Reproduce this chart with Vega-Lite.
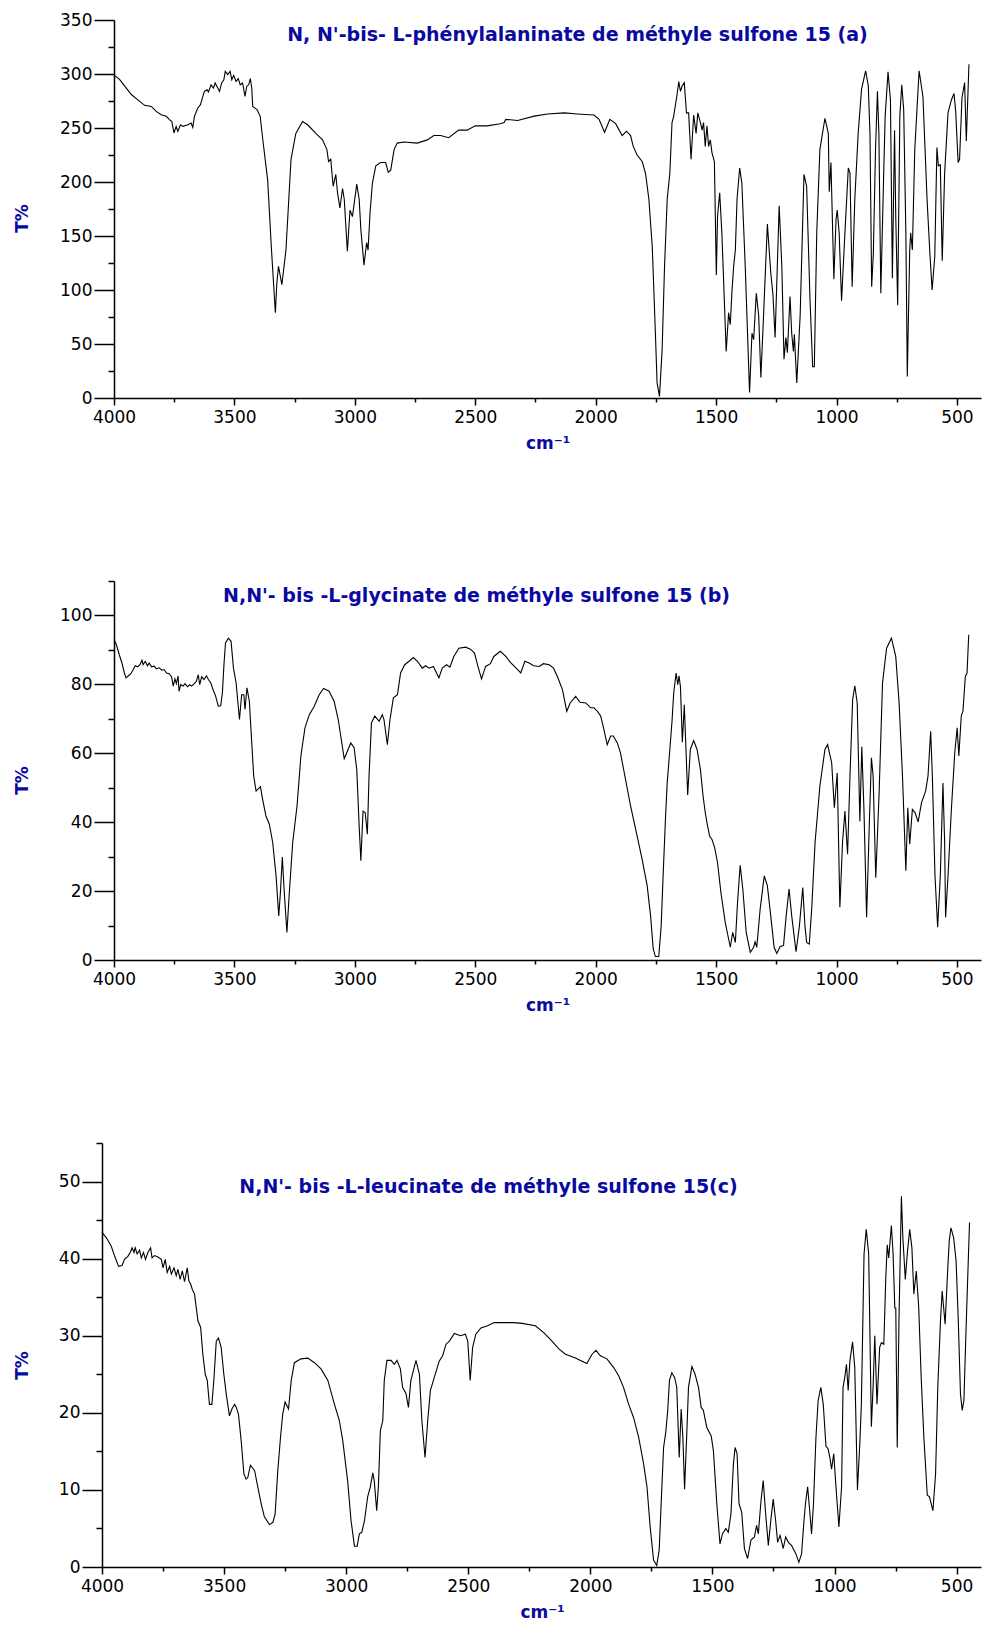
{
  "$schema": "https://vega.github.io/schema/vega-lite/v6.json",
  "background": "white",
  "padding": {"left": 13, "top": 11, "right": 2, "bottom": 2},
  "columns": 1,
  "center": true,
  "spacing": 121,
  "config": {
    "view": {"stroke": null},
    "font": "DejaVu Sans",
    "axis": {
      "grid": false,
      "domainColor": "black",
      "domainWidth": 1.5,
      "tickColor": "black",
      "tickWidth": 1.5,
      "labelColor": "black",
      "labelFont": "DejaVu Sans",
      "labelFontSize": 17,
      "labelOverlap": false,
      "titleFont": "DejaVu Sans",
      "titleFontWeight": "bold",
      "titleFontSize": 17,
      "titleColor": "#0a0aa0"
    },
    "title": {"font": "DejaVu Sans", "fontWeight": "bold", "fontSize": 19, "color": "#0a0aa0", "anchor": "middle", "frame": "group", "baseline": "alphabetic"},
    "line": {"color": "black", "strokeWidth": 1.1}
  },
  "datasets": {
    "a": [
      {"wn":4000,"t":299},{"wn":3977,"t":295},{"wn":3949,"t":287},{"wn":3928,"t":281},{"wn":3901,"t":276},{"wn":3873,"t":271},{"wn":3845,"t":270},{"wn":3825,"t":265.4},{"wn":3804,"t":262.3},{"wn":3783,"t":260.8},{"wn":3770,"t":257.7},{"wn":3760,"t":256},{"wn":3751,"t":245.4},{"wn":3742,"t":251.5},{"wn":3735,"t":246.9},{"wn":3724,"t":253},{"wn":3714,"t":251.5},{"wn":3693,"t":253},{"wn":3680,"t":254.6},{"wn":3673,"t":250.6},{"wn":3666,"t":260.8},{"wn":3652,"t":268.5},{"wn":3641,"t":271.6},{"wn":3635,"t":276.2},{"wn":3625,"t":283.9},{"wn":3613,"t":285.5},{"wn":3608,"t":283.4},{"wn":3597,"t":290},{"wn":3587,"t":287},{"wn":3580,"t":291.7},{"wn":3569,"t":287},{"wn":3562,"t":283.9},{"wn":3553,"t":291.7},{"wn":3544,"t":294.7},{"wn":3538,"t":302.4},{"wn":3528,"t":299.4},{"wn":3518,"t":302.4},{"wn":3511,"t":294.7},{"wn":3503,"t":298.7},{"wn":3493,"t":293.2},{"wn":3484,"t":295.7},{"wn":3476,"t":290},{"wn":3466,"t":291.7},{"wn":3456,"t":279.3},{"wn":3449,"t":288.5},{"wn":3441,"t":290},{"wn":3434,"t":295.7},{"wn":3428,"t":287},{"wn":3424,"t":270},{"wn":3406,"t":267},{"wn":3393,"t":260.8},{"wn":3383,"t":240.8},{"wn":3362,"t":202},{"wn":3346,"t":137},{"wn":3330,"t":79},{"wn":3324,"t":106},{"wn":3317,"t":122},{"wn":3303,"t":105},{"wn":3286,"t":137},{"wn":3265,"t":221},{"wn":3245,"t":245},{"wn":3217,"t":256},{"wn":3196,"t":253},{"wn":3162,"t":245},{"wn":3134,"t":239},{"wn":3116,"t":230},{"wn":3109,"t":219},{"wn":3100,"t":221},{"wn":3090,"t":196},{"wn":3079,"t":207},{"wn":3072,"t":190},{"wn":3062,"t":176},{"wn":3051,"t":194},{"wn":3044,"t":184},{"wn":3031,"t":136},{"wn":3020,"t":174},{"wn":3010,"t":168},{"wn":2992,"t":198},{"wn":2982,"t":184},{"wn":2975,"t":156},{"wn":2962,"t":123},{"wn":2951,"t":144},{"wn":2945,"t":137},{"wn":2937,"t":171},{"wn":2927,"t":199},{"wn":2913,"t":215},{"wn":2893,"t":218},{"wn":2872,"t":218},{"wn":2861,"t":209},{"wn":2851,"t":211},{"wn":2837,"t":230},{"wn":2824,"t":236},{"wn":2796,"t":237},{"wn":2741,"t":236},{"wn":2699,"t":239},{"wn":2672,"t":243},{"wn":2644,"t":243},{"wn":2610,"t":241},{"wn":2569,"t":248},{"wn":2534,"t":248},{"wn":2500,"t":252},{"wn":2451,"t":252},{"wn":2396,"t":254},{"wn":2380,"t":255},{"wn":2373,"t":258},{"wn":2324,"t":257},{"wn":2255,"t":261},{"wn":2200,"t":263},{"wn":2131,"t":264},{"wn":2076,"t":263},{"wn":2007,"t":262},{"wn":1986,"t":258},{"wn":1963,"t":246},{"wn":1941,"t":258},{"wn":1917,"t":254},{"wn":1890,"t":243},{"wn":1872,"t":247},{"wn":1855,"t":243},{"wn":1844,"t":233},{"wn":1828,"t":225},{"wn":1807,"t":219},{"wn":1793,"t":208},{"wn":1779,"t":184},{"wn":1765,"t":140},{"wn":1752,"t":60},{"wn":1745,"t":14},{"wn":1735,"t":1.5},{"wn":1724,"t":45},{"wn":1714,"t":122},{"wn":1703,"t":184},{"wn":1692,"t":208},{"wn":1683,"t":255},{"wn":1676,"t":261},{"wn":1662,"t":281},{"wn":1655,"t":293},{"wn":1648,"t":284},{"wn":1641,"t":289},{"wn":1632,"t":292},{"wn":1623,"t":264},{"wn":1614,"t":264},{"wn":1604,"t":221},{"wn":1593,"t":262},{"wn":1583,"t":245},{"wn":1576,"t":264},{"wn":1565,"t":255},{"wn":1558,"t":248},{"wn":1552,"t":255},{"wn":1545,"t":233},{"wn":1538,"t":252},{"wn":1531,"t":233},{"wn":1524,"t":239},{"wn":1517,"t":227},{"wn":1507,"t":219},{"wn":1499,"t":114},{"wn":1494,"t":168},{"wn":1485,"t":190},{"wn":1476,"t":153},{"wn":1458,"t":43},{"wn":1448,"t":79},{"wn":1441,"t":68},{"wn":1434,"t":99},{"wn":1427,"t":122},{"wn":1420,"t":137},{"wn":1413,"t":184},{"wn":1402,"t":213},{"wn":1393,"t":199},{"wn":1379,"t":122},{"wn":1361,"t":5},{"wn":1351,"t":60},{"wn":1344,"t":54},{"wn":1333,"t":97},{"wn":1323,"t":76},{"wn":1314,"t":19},{"wn":1303,"t":76},{"wn":1287,"t":161},{"wn":1273,"t":116},{"wn":1264,"t":96},{"wn":1255,"t":56},{"wn":1238,"t":178},{"wn":1227,"t":122},{"wn":1218,"t":36},{"wn":1210,"t":56},{"wn":1204,"t":42},{"wn":1193,"t":94},{"wn":1186,"t":60},{"wn":1179,"t":43},{"wn":1175,"t":59},{"wn":1165,"t":14},{"wn":1151,"t":76},{"wn":1135,"t":207},{"wn":1124,"t":196},{"wn":1110,"t":91},{"wn":1099,"t":29},{"wn":1092,"t":29},{"wn":1082,"t":153},{"wn":1069,"t":230},{"wn":1048,"t":259},{"wn":1034,"t":245},{"wn":1030,"t":191},{"wn":1023,"t":218},{"wn":1011,"t":110},{"wn":1002,"t":165},{"wn":997,"t":174},{"wn":989,"t":153},{"wn":979,"t":90},{"wn":965,"t":153},{"wn":951,"t":213},{"wn":944,"t":208},{"wn":935,"t":103},{"wn":924,"t":184},{"wn":910,"t":245},{"wn":896,"t":286},{"wn":879,"t":303},{"wn":868,"t":289},{"wn":861,"t":245},{"wn":854,"t":103},{"wn":847,"t":134},{"wn":838,"t":230},{"wn":830,"t":284},{"wn":824,"t":245},{"wn":816,"t":97},{"wn":806,"t":190},{"wn":798,"t":261},{"wn":786,"t":302},{"wn":776,"t":276},{"wn":768,"t":111},{"wn":759,"t":248},{"wn":754,"t":168},{"wn":746,"t":86},{"wn":737,"t":261},{"wn":729,"t":290},{"wn":721,"t":267},{"wn":712,"t":153},{"wn":706,"t":20},{"wn":696,"t":137},{"wn":692,"t":153},{"wn":685,"t":137},{"wn":675,"t":230},{"wn":657,"t":303},{"wn":641,"t":279},{"wn":624,"t":184},{"wn":613,"t":137},{"wn":603,"t":100},{"wn":592,"t":131},{"wn":583,"t":232},{"wn":577,"t":215},{"wn":569,"t":216},{"wn":561,"t":127},{"wn":551,"t":208},{"wn":537,"t":264},{"wn":523,"t":276},{"wn":512,"t":282},{"wn":505,"t":265},{"wn":495,"t":218},{"wn":489,"t":221},{"wn":479,"t":278},{"wn":468,"t":292},{"wn":461,"t":238},{"wn":450,"t":309}
    ],
    "b": [
      {"wn":4000,"t":93},{"wn":3990,"t":91.5},{"wn":3978,"t":88.6},{"wn":3967,"t":86.2},{"wn":3957,"t":83.3},{"wn":3950,"t":81.9},{"wn":3940,"t":82.5},{"wn":3930,"t":83.1},{"wn":3920,"t":84.3},{"wn":3912,"t":85.4},{"wn":3902,"t":85.1},{"wn":3892,"t":85.7},{"wn":3884,"t":87},{"wn":3879,"t":85.7},{"wn":3870,"t":86.7},{"wn":3861,"t":85.4},{"wn":3854,"t":86.2},{"wn":3844,"t":85.1},{"wn":3833,"t":85.3},{"wn":3824,"t":84.5},{"wn":3812,"t":84.8},{"wn":3801,"t":84.1},{"wn":3792,"t":84.3},{"wn":3782,"t":83.3},{"wn":3771,"t":83.1},{"wn":3761,"t":82.2},{"wn":3754,"t":79.5},{"wn":3747,"t":81.6},{"wn":3741,"t":80.2},{"wn":3734,"t":82.4},{"wn":3730,"t":78},{"wn":3723,"t":79.9},{"wn":3713,"t":79.5},{"wn":3705,"t":80.2},{"wn":3695,"t":79.3},{"wn":3685,"t":79.9},{"wn":3677,"t":79.5},{"wn":3667,"t":80.2},{"wn":3658,"t":80.9},{"wn":3650,"t":82.8},{"wn":3644,"t":79.9},{"wn":3636,"t":82.2},{"wn":3626,"t":81.4},{"wn":3616,"t":82.5},{"wn":3608,"t":81.4},{"wn":3598,"t":80.4},{"wn":3589,"t":78.5},{"wn":3578,"t":76.6},{"wn":3567,"t":73.7},{"wn":3557,"t":73.8},{"wn":3550,"t":77.5},{"wn":3543,"t":86.2},{"wn":3537,"t":92},{"wn":3525,"t":93.4},{"wn":3514,"t":92.5},{"wn":3504,"t":84.7},{"wn":3493,"t":80.4},{"wn":3479,"t":69.8},{"wn":3470,"t":77},{"wn":3461,"t":77},{"wn":3456,"t":72.7},{"wn":3448,"t":79},{"wn":3438,"t":75.1},{"wn":3428,"t":63},{"wn":3420,"t":53.4},{"wn":3410,"t":49},{"wn":3392,"t":50.3},{"wn":3383,"t":46.6},{"wn":3369,"t":41.8},{"wn":3355,"t":39.4},{"wn":3341,"t":34.1},{"wn":3327,"t":24.4},{"wn":3316,"t":12.8},{"wn":3309,"t":19.6},{"wn":3301,"t":29.9},{"wn":3293,"t":19.6},{"wn":3282,"t":8},{"wn":3272,"t":19.6},{"wn":3258,"t":34.1},{"wn":3240,"t":44.7},{"wn":3224,"t":59.2},{"wn":3207,"t":67.4},{"wn":3189,"t":71.2},{"wn":3169,"t":73.6},{"wn":3148,"t":77},{"wn":3130,"t":78.8},{"wn":3107,"t":78},{"wn":3086,"t":75.1},{"wn":3069,"t":69.8},{"wn":3044,"t":58.4},{"wn":3031,"t":60.6},{"wn":3017,"t":63},{"wn":3003,"t":61.6},{"wn":2992,"t":55.3},{"wn":2982,"t":38.9},{"wn":2975,"t":28.8},{"wn":2966,"t":43.2},{"wn":2957,"t":42.8},{"wn":2948,"t":36.5},{"wn":2941,"t":53.4},{"wn":2931,"t":68.8},{"wn":2917,"t":70.8},{"wn":2899,"t":69.3},{"wn":2886,"t":71.2},{"wn":2879,"t":69.8},{"wn":2865,"t":62.5},{"wn":2854,"t":69.8},{"wn":2840,"t":76.1},{"wn":2823,"t":77},{"wn":2810,"t":83.3},{"wn":2793,"t":85.7},{"wn":2775,"t":86.7},{"wn":2757,"t":87.8},{"wn":2740,"t":86.7},{"wn":2720,"t":84.7},{"wn":2706,"t":85.4},{"wn":2692,"t":84.7},{"wn":2674,"t":85.2},{"wn":2651,"t":81.9},{"wn":2637,"t":84.7},{"wn":2619,"t":85.7},{"wn":2605,"t":85},{"wn":2589,"t":88.1},{"wn":2568,"t":90.5},{"wn":2540,"t":90.8},{"wn":2520,"t":90.2},{"wn":2503,"t":89.1},{"wn":2489,"t":85.2},{"wn":2474,"t":81.6},{"wn":2457,"t":85.2},{"wn":2437,"t":86},{"wn":2423,"t":88.1},{"wn":2396,"t":89.6},{"wn":2373,"t":88.1},{"wn":2352,"t":86.2},{"wn":2324,"t":84.3},{"wn":2311,"t":83.3},{"wn":2294,"t":86.7},{"wn":2276,"t":86.2},{"wn":2258,"t":85.4},{"wn":2235,"t":85.2},{"wn":2217,"t":86},{"wn":2193,"t":85.7},{"wn":2175,"t":84.7},{"wn":2159,"t":82.3},{"wn":2138,"t":78.5},{"wn":2120,"t":72.2},{"wn":2106,"t":74.6},{"wn":2083,"t":76.5},{"wn":2065,"t":74.8},{"wn":2041,"t":74.6},{"wn":2021,"t":73.2},{"wn":2007,"t":73.2},{"wn":1993,"t":72.2},{"wn":1979,"t":70.8},{"wn":1966,"t":66.9},{"wn":1952,"t":62.5},{"wn":1938,"t":65},{"wn":1927,"t":65},{"wn":1910,"t":63},{"wn":1897,"t":60.1},{"wn":1876,"t":52.4},{"wn":1855,"t":44.7},{"wn":1828,"t":36},{"wn":1807,"t":29.2},{"wn":1786,"t":21.5},{"wn":1772,"t":12.8},{"wn":1761,"t":3.2},{"wn":1752,"t":1},{"wn":1738,"t":1},{"wn":1728,"t":9.9},{"wn":1720,"t":24.4},{"wn":1710,"t":41.3},{"wn":1703,"t":51.4},{"wn":1692,"t":61.1},{"wn":1683,"t":69.3},{"wn":1676,"t":77.5},{"wn":1666,"t":83.3},{"wn":1659,"t":79.9},{"wn":1654,"t":82.5},{"wn":1648,"t":79.4},{"wn":1640,"t":63.2},{"wn":1632,"t":74.1},{"wn":1626,"t":63},{"wn":1618,"t":47.9},{"wn":1607,"t":61.1},{"wn":1593,"t":63.7},{"wn":1579,"t":61.1},{"wn":1565,"t":55.3},{"wn":1554,"t":47.6},{"wn":1545,"t":42.8},{"wn":1538,"t":39.9},{"wn":1527,"t":36},{"wn":1517,"t":35},{"wn":1506,"t":32.6},{"wn":1494,"t":28.3},{"wn":1480,"t":19.6},{"wn":1462,"t":10.9},{"wn":1441,"t":3.7},{"wn":1431,"t":8},{"wn":1420,"t":5.1},{"wn":1411,"t":16.7},{"wn":1400,"t":27.5},{"wn":1389,"t":20.6},{"wn":1375,"t":8},{"wn":1358,"t":2.2},{"wn":1344,"t":3.7},{"wn":1338,"t":5.3},{"wn":1331,"t":3.7},{"wn":1317,"t":14.8},{"wn":1300,"t":24.4},{"wn":1287,"t":21.5},{"wn":1273,"t":12.8},{"wn":1259,"t":3.7},{"wn":1248,"t":1.9},{"wn":1234,"t":3.9},{"wn":1220,"t":4.2},{"wn":1209,"t":12.8},{"wn":1197,"t":20.6},{"wn":1186,"t":12.8},{"wn":1168,"t":2.4},{"wn":1154,"t":9.9},{"wn":1140,"t":21},{"wn":1131,"t":9.9},{"wn":1124,"t":5.1},{"wn":1113,"t":4.6},{"wn":1103,"t":14.8},{"wn":1089,"t":34.1},{"wn":1069,"t":50.5},{"wn":1048,"t":61.1},{"wn":1037,"t":62.5},{"wn":1020,"t":57.2},{"wn":1009,"t":44.2},{"wn":997,"t":54.3},{"wn":986,"t":15.3},{"wn":975,"t":34.1},{"wn":965,"t":43.2},{"wn":954,"t":30.7},{"wn":944,"t":53.4},{"wn":933,"t":75.6},{"wn":924,"t":79.6},{"wn":914,"t":74.6},{"wn":903,"t":40.3},{"wn":895,"t":61.9},{"wn":886,"t":43.7},{"wn":875,"t":12.4},{"wn":864,"t":38.9},{"wn":855,"t":58.7},{"wn":848,"t":53.4},{"wn":837,"t":23.9},{"wn":823,"t":48.6},{"wn":809,"t":80.4},{"wn":792,"t":90.5},{"wn":772,"t":93.4},{"wn":754,"t":88.1},{"wn":740,"t":74.6},{"wn":726,"t":53.4},{"wn":712,"t":25.9},{"wn":704,"t":44.2},{"wn":696,"t":33.6},{"wn":685,"t":43.7},{"wn":674,"t":42.8},{"wn":661,"t":40.1},{"wn":647,"t":45.7},{"wn":630,"t":49},{"wn":620,"t":53.4},{"wn":609,"t":66.4},{"wn":602,"t":53.4},{"wn":591,"t":24.4},{"wn":580,"t":9.5},{"wn":569,"t":24.4},{"wn":558,"t":51.4},{"wn":551,"t":34.1},{"wn":547,"t":12.4},{"wn":537,"t":24.4},{"wn":523,"t":43.7},{"wn":509,"t":60.1},{"wn":499,"t":67.4},{"wn":492,"t":59.2},{"wn":482,"t":70.8},{"wn":475,"t":72.2},{"wn":465,"t":82.3},{"wn":458,"t":83.3},{"wn":451,"t":94.4}
    ],
    "c": [
      {"wn":4000,"t":43.4},{"wn":3982,"t":42.7},{"wn":3962,"t":41.6},{"wn":3948,"t":40.3},{"wn":3932,"t":39},{"wn":3918,"t":39.1},{"wn":3908,"t":39.9},{"wn":3894,"t":40.3},{"wn":3883,"t":40.9},{"wn":3877,"t":41.4},{"wn":3869,"t":40.8},{"wn":3864,"t":41.4},{"wn":3856,"t":40.6},{"wn":3846,"t":41.1},{"wn":3839,"t":40.1},{"wn":3830,"t":40.8},{"wn":3822,"t":39.9},{"wn":3812,"t":40.8},{"wn":3801,"t":41.4},{"wn":3795,"t":40.1},{"wn":3785,"t":40.4},{"wn":3771,"t":40.2},{"wn":3757,"t":39.9},{"wn":3750,"t":38.8},{"wn":3741,"t":39.9},{"wn":3733,"t":38.2},{"wn":3723,"t":39},{"wn":3716,"t":38},{"wn":3705,"t":38.8},{"wn":3696,"t":37.8},{"wn":3689,"t":38.6},{"wn":3680,"t":37.3},{"wn":3671,"t":38.4},{"wn":3662,"t":37},{"wn":3651,"t":38.8},{"wn":3644,"t":37.1},{"wn":3637,"t":36.7},{"wn":3630,"t":36},{"wn":3621,"t":35.4},{"wn":3607,"t":31.9},{"wn":3596,"t":31.1},{"wn":3587,"t":27.6},{"wn":3577,"t":25},{"wn":3569,"t":24.2},{"wn":3560,"t":21.1},{"wn":3550,"t":21.1},{"wn":3542,"t":24.2},{"wn":3532,"t":29.3},{"wn":3523,"t":29.7},{"wn":3512,"t":28.5},{"wn":3501,"t":25},{"wn":3491,"t":22.4},{"wn":3478,"t":19.6},{"wn":3468,"t":20.5},{"wn":3457,"t":21.1},{"wn":3450,"t":20.7},{"wn":3441,"t":19.8},{"wn":3430,"t":16.4},{"wn":3419,"t":12.1},{"wn":3410,"t":11.4},{"wn":3403,"t":11.6},{"wn":3392,"t":13.2},{"wn":3375,"t":12.5},{"wn":3362,"t":10.4},{"wn":3348,"t":8.2},{"wn":3335,"t":6.5},{"wn":3314,"t":5.5},{"wn":3300,"t":5.8},{"wn":3291,"t":6.9},{"wn":3280,"t":12.5},{"wn":3269,"t":16.8},{"wn":3260,"t":19.8},{"wn":3250,"t":21.4},{"wn":3236,"t":20.5},{"wn":3225,"t":24.2},{"wn":3212,"t":26.5},{"wn":3185,"t":27},{"wn":3157,"t":27.1},{"wn":3130,"t":26.5},{"wn":3103,"t":25.7},{"wn":3075,"t":24.2},{"wn":3048,"t":21.1},{"wn":3028,"t":19},{"wn":3014,"t":16.4},{"wn":2994,"t":11.2},{"wn":2980,"t":6},{"wn":2966,"t":2.7},{"wn":2955,"t":2.7},{"wn":2946,"t":4.3},{"wn":2936,"t":4.5},{"wn":2925,"t":6},{"wn":2912,"t":9.1},{"wn":2901,"t":10.4},{"wn":2891,"t":12.2},{"wn":2885,"t":11.2},{"wn":2875,"t":7.3},{"wn":2868,"t":10.4},{"wn":2860,"t":17.7},{"wn":2850,"t":19},{"wn":2844,"t":24.2},{"wn":2833,"t":26.8},{"wn":2816,"t":26.8},{"wn":2803,"t":26.3},{"wn":2792,"t":26.8},{"wn":2778,"t":25.7},{"wn":2769,"t":23.3},{"wn":2755,"t":22.5},{"wn":2745,"t":20.7},{"wn":2735,"t":24.2},{"wn":2714,"t":26.8},{"wn":2700,"t":25},{"wn":2690,"t":19},{"wn":2677,"t":14.2},{"wn":2666,"t":19},{"wn":2655,"t":22.9},{"wn":2639,"t":24.6},{"wn":2619,"t":26.7},{"wn":2605,"t":27.4},{"wn":2591,"t":28.9},{"wn":2577,"t":29.3},{"wn":2557,"t":30.3},{"wn":2532,"t":30},{"wn":2512,"t":30.2},{"wn":2502,"t":29.3},{"wn":2492,"t":24.2},{"wn":2482,"t":28.5},{"wn":2469,"t":30.2},{"wn":2448,"t":31},{"wn":2421,"t":31.3},{"wn":2394,"t":31.7},{"wn":2366,"t":31.7},{"wn":2341,"t":31.7},{"wn":2313,"t":31.7},{"wn":2279,"t":31.6},{"wn":2225,"t":31.3},{"wn":2191,"t":30.4},{"wn":2157,"t":29.3},{"wn":2129,"t":28.3},{"wn":2102,"t":27.6},{"wn":2061,"t":27.1},{"wn":2034,"t":26.7},{"wn":2014,"t":26.4},{"wn":1993,"t":27.6},{"wn":1977,"t":28.1},{"wn":1959,"t":27.4},{"wn":1932,"t":27},{"wn":1905,"t":25.9},{"wn":1884,"t":24.8},{"wn":1864,"t":23.3},{"wn":1843,"t":21.1},{"wn":1823,"t":19.4},{"wn":1802,"t":16.8},{"wn":1782,"t":13.4},{"wn":1768,"t":10.4},{"wn":1755,"t":5.2},{"wn":1741,"t":0.9},{"wn":1728,"t":0.2},{"wn":1718,"t":2.2},{"wn":1710,"t":8.2},{"wn":1700,"t":15.5},{"wn":1691,"t":17.5},{"wn":1683,"t":20.3},{"wn":1676,"t":24.2},{"wn":1666,"t":25.2},{"wn":1655,"t":24.6},{"wn":1646,"t":23.3},{"wn":1636,"t":14.2},{"wn":1628,"t":20.5},{"wn":1621,"t":16.8},{"wn":1614,"t":10.1},{"wn":1605,"t":17.3},{"wn":1598,"t":23.3},{"wn":1584,"t":26},{"wn":1571,"t":25},{"wn":1557,"t":23.3},{"wn":1546,"t":20.7},{"wn":1537,"t":20.3},{"wn":1523,"t":18.1},{"wn":1505,"t":17},{"wn":1496,"t":15.1},{"wn":1482,"t":8.2},{"wn":1469,"t":3},{"wn":1459,"t":4.3},{"wn":1445,"t":5},{"wn":1435,"t":4.5},{"wn":1424,"t":6.9},{"wn":1414,"t":13.4},{"wn":1407,"t":15.5},{"wn":1399,"t":14.7},{"wn":1391,"t":8.2},{"wn":1380,"t":7.1},{"wn":1369,"t":2.4},{"wn":1356,"t":1.1},{"wn":1342,"t":3.5},{"wn":1328,"t":3.9},{"wn":1319,"t":5.4},{"wn":1312,"t":4.3},{"wn":1301,"t":8.6},{"wn":1292,"t":11.2},{"wn":1282,"t":6.9},{"wn":1271,"t":2.8},{"wn":1261,"t":6},{"wn":1251,"t":8.8},{"wn":1241,"t":6},{"wn":1233,"t":3.2},{"wn":1223,"t":4.1},{"wn":1210,"t":2.4},{"wn":1200,"t":3.9},{"wn":1189,"t":3.2},{"wn":1176,"t":2.8},{"wn":1158,"t":1.7},{"wn":1146,"t":0.6},{"wn":1135,"t":1.7},{"wn":1125,"t":6},{"wn":1119,"t":8.2},{"wn":1110,"t":10.4},{"wn":1101,"t":7.1},{"wn":1094,"t":4.3},{"wn":1086,"t":8.2},{"wn":1076,"t":16.8},{"wn":1067,"t":21.6},{"wn":1056,"t":23.3},{"wn":1046,"t":21.1},{"wn":1035,"t":15.7},{"wn":1026,"t":15.3},{"wn":1019,"t":14.2},{"wn":1012,"t":12.7},{"wn":1003,"t":14.7},{"wn":994,"t":10.4},{"wn":982,"t":5.2},{"wn":971,"t":10.4},{"wn":965,"t":23.3},{"wn":958,"t":24.6},{"wn":951,"t":26.3},{"wn":944,"t":22.9},{"wn":937,"t":26.7},{"wn":926,"t":29.2},{"wn":917,"t":25.9},{"wn":906,"t":10},{"wn":896,"t":16.2},{"wn":890,"t":21.1},{"wn":879,"t":40.6},{"wn":870,"t":43.8},{"wn":860,"t":40.6},{"wn":849,"t":18.2},{"wn":842,"t":23.3},{"wn":835,"t":30},{"wn":826,"t":21.1},{"wn":815,"t":28.5},{"wn":808,"t":29.1},{"wn":798,"t":28.9},{"wn":790,"t":37.5},{"wn":784,"t":41.8},{"wn":778,"t":40.1},{"wn":767,"t":44.3},{"wn":760,"t":40.6},{"wn":753,"t":33.6},{"wn":749,"t":33.6},{"wn":743,"t":15.5},{"wn":736,"t":31.9},{"wn":726,"t":48.1},{"wn":720,"t":42.7},{"wn":710,"t":37.3},{"wn":702,"t":40.6},{"wn":692,"t":43.8},{"wn":683,"t":41.4},{"wn":675,"t":35.4},{"wn":665,"t":38.4},{"wn":655,"t":33.6},{"wn":645,"t":24.6},{"wn":634,"t":16.8},{"wn":620,"t":9.3},{"wn":611,"t":9.1},{"wn":597,"t":7.3},{"wn":586,"t":12.1},{"wn":577,"t":23.3},{"wn":566,"t":31.9},{"wn":559,"t":35.8},{"wn":547,"t":31.5},{"wn":536,"t":38.8},{"wn":530,"t":42.3},{"wn":523,"t":44},{"wn":512,"t":42.7},{"wn":502,"t":39.7},{"wn":493,"t":31.9},{"wn":484,"t":22.4},{"wn":477,"t":20.3},{"wn":470,"t":21.6},{"wn":461,"t":31.1},{"wn":447,"t":44.7}
    ]
  },
  "concat": [
    {
      "width": 867,
      "height": 378,
      "data": {"name": "a"},
      "title": {"text": "N, N'-bis- L-phénylalaninate de méthyle sulfone 15 (a)", "offset": -34, "dx": 30},
      "mark": {"type": "line"},
      "encoding": {
        "x": {
          "field": "wn", "type": "quantitative",
          "scale": {"domain": [4000, 400], "nice": false, "zero": false},
          "axis": {"title": "cm⁻¹", "format": "d", "labelFlush": false, "labelPadding": 4, "titlePadding": 10, "values": [4000, 3750, 3500, 3250, 3000, 2750, 2500, 2250, 2000, 1750, 1500, 1250, 1000, 750, 500], "labelExpr": "datum.value % 500 === 0 ? datum.label : ''", "tickSize": {"condition": {"test": "datum.value % 500 === 0", "value": 7}, "value": 4}}
        },
        "y": {
          "field": "t", "type": "quantitative",
          "scale": {"domain": [0, 350], "nice": false},
          "axis": {"title": "T%", "labelPadding": 2, "titleBaseline": "top", "values": [0, 25, 50, 75, 100, 125, 150, 175, 200, 225, 250, 275, 300, 325, 350], "labelExpr": "datum.value % 50 === 0 ? datum.label : ''", "tickSize": {"condition": {"test": "datum.value % 50 === 0", "value": 20}, "value": 6}, "titleX": -99.7, "titleY": 198}
        }
      }
    },
    {
      "width": 867,
      "height": 379,
      "data": {"name": "b"},
      "title": {"text": "N,N'- bis -L-glycinate de méthyle sulfone 15 (b)", "offset": -34, "dx": -71},
      "mark": {"type": "line"},
      "encoding": {
        "x": {
          "field": "wn", "type": "quantitative",
          "scale": {"domain": [4000, 400], "nice": false, "zero": false},
          "axis": {"title": "cm⁻¹", "format": "d", "labelFlush": false, "labelPadding": 4, "titlePadding": 10, "values": [4000, 3750, 3500, 3250, 3000, 2750, 2500, 2250, 2000, 1750, 1500, 1250, 1000, 750, 500], "labelExpr": "datum.value % 500 === 0 ? datum.label : ''", "tickSize": {"condition": {"test": "datum.value % 500 === 0", "value": 7}, "value": 4}}
        },
        "y": {
          "field": "t", "type": "quantitative",
          "scale": {"domain": [0, 110], "nice": false},
          "axis": {"title": "T%", "labelPadding": 2, "titleBaseline": "top", "values": [0, 10, 20, 30, 40, 50, 60, 70, 80, 90, 100, 110], "labelExpr": "datum.value % 20 === 0 && datum.value <= 100 ? datum.label : ''", "tickSize": {"condition": {"test": "datum.value % 20 === 0 && datum.value <= 100", "value": 20}, "value": 6}, "titleX": -99.7, "titleY": 199}
        }
      }
    },
    {
      "width": 891,
      "height": 424,
      "data": {"name": "c"},
      "title": {"text": "N,N'- bis -L-leucinate de méthyle sulfone 15(c)", "offset": -63, "dx": -59},
      "mark": {"type": "line"},
      "encoding": {
        "x": {
          "field": "wn", "type": "quantitative",
          "scale": {"domain": [4000, 400], "range": [0, 879], "nice": false, "zero": false},
          "axis": {"title": "cm⁻¹", "titleX": 440, "format": "d", "labelFlush": false, "labelPadding": 4, "titlePadding": 10, "values": [4000, 3750, 3500, 3250, 3000, 2750, 2500, 2250, 2000, 1750, 1500, 1250, 1000, 750, 500], "labelExpr": "datum.value % 500 === 0 ? datum.label : ''", "tickSize": {"condition": {"test": "datum.value % 500 === 0", "value": 7}, "value": 4}}
        },
        "y": {
          "field": "t", "type": "quantitative",
          "scale": {"domain": [0, 55], "nice": false},
          "axis": {"title": "T%", "labelPadding": 2, "titleBaseline": "top", "values": [0, 5, 10, 15, 20, 25, 30, 35, 40, 45, 50, 55], "labelExpr": "datum.value % 10 === 0 ? datum.label : ''", "tickSize": {"condition": {"test": "datum.value % 10 === 0", "value": 20}, "value": 6}, "titleX": -87.7, "titleY": 222}
        }
      }
    }
  ]
}
